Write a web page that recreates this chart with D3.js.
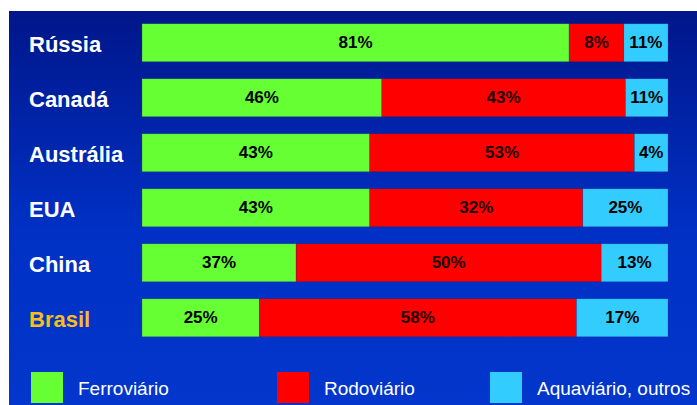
<!DOCTYPE html>
<html>
<head>
<meta charset="utf-8">
<script src="https://cdn.jsdelivr.net/npm/d3@7"></script>
<style>
html,body{margin:0;padding:0;background:#fff;}
svg{display:block;}
</style>
</head>
<body>
<svg id="chart" width="697" height="405"></svg>
<script>
// Categories
const paises = ["Rússia", "Canadá", "Austrália", "EUA", "China", "Brasil"];
// Drawn segment shares
const ferroviario = [81.2, 45.6, 43.3, 43.3, 29.3, 22.3];
const rodoviario  = [10.4, 46.3, 50.3, 40.5, 58.0, 60.3];
const aquaviario  = [8.4, 8.1, 6.4, 16.2, 12.7, 17.4];
// Printed labels
const rotFerro = ["81%", "46%", "43%", "43%", "37%", "25%"];
const rotRodo  = ["8%", "43%", "53%", "32%", "50%", "58%"];
const rotAqua  = ["11%", "11%", "4%", "25%", "13%", "17%"];
// Legend
const modais = ["Ferroviário", "Rodoviário", "Aquaviário, outros"];
const cores = ["#66ff33", "#ff0000", "#33ccff"];

const svg = d3.select("#chart");
const defs = svg.append("defs");
const grad = defs.append("linearGradient").attr("id","bg").attr("x1",0).attr("y1",0).attr("x2",0).attr("y2",1);
grad.append("stop").attr("offset","0%").attr("stop-color","#00168a");
grad.append("stop").attr("offset","55%").attr("stop-color","#0030c4");
grad.append("stop").attr("offset","100%").attr("stop-color","#0336cc");

svg.append("rect").attr("x",9).attr("y",11).attr("width",688).attr("height",394).attr("fill","url(#bg)");

const x = d3.scaleLinear().domain([0,100]).range([142,668]);
const y = d3.scaleBand().domain(paises).range([15.5,345]).paddingInner(0.31).paddingOuter(0.15);

const series = [ferroviario, rodoviario, aquaviario];
const labels = [rotFerro, rotRodo, rotAqua];
const rows = paises.map((p,i)=>({pais:p, vals:series.map(s=>s[i]), labs:labels.map(l=>l[i])}));

const g = svg.append("g");
rows.forEach(r=>{
  let acc = 0;
  r.vals.forEach((v,k)=>{
    const x0 = x(acc), x1 = x(acc+v);
    g.append("rect").attr("x",x0).attr("y",y(r.pais)).attr("width",x1-x0).attr("height",y.bandwidth())
      .attr("fill",cores[k]).attr("stroke","rgba(0,40,120,0.35)").attr("stroke-width",0.6);
    g.append("text").attr("x",(x0+x1)/2).attr("y",y(r.pais)+y.bandwidth()/2)
      .attr("text-anchor","middle").attr("dominant-baseline","central")
      .attr("font-family","'Liberation Sans', Arial, sans-serif").attr("font-weight","bold")
      .attr("font-size",17).attr("fill", k===1 ? "#200000" : "#000")
      .text(r.labs[k]);
    acc += v;
  });
  svg.append("text").attr("x",29).attr("y",y(r.pais)+y.bandwidth()/2+2)
    .attr("dominant-baseline","central")
    .attr("font-family","'Liberation Sans', Arial, sans-serif").attr("font-weight","bold")
    .attr("font-size",22).attr("fill", r.pais==="Brasil" ? "#f7bd1f" : "#ffffff")
    .text(r.pais);
});

const lx = d3.scaleOrdinal().domain(modais).range([31,277,490]);
const lg = svg.append("g");
modais.forEach((m,k)=>{
  lg.append("rect").attr("x",lx(m)).attr("y",372).attr("width",32).attr("height",31).attr("fill",cores[k]);
  lg.append("text").attr("x",lx(m)+47).attr("y",395)
    .attr("font-family","'Liberation Sans', Arial, sans-serif")
    .attr("font-size",19).attr("fill","#ffffff").text(m);
});
</script>
</body>
</html>
